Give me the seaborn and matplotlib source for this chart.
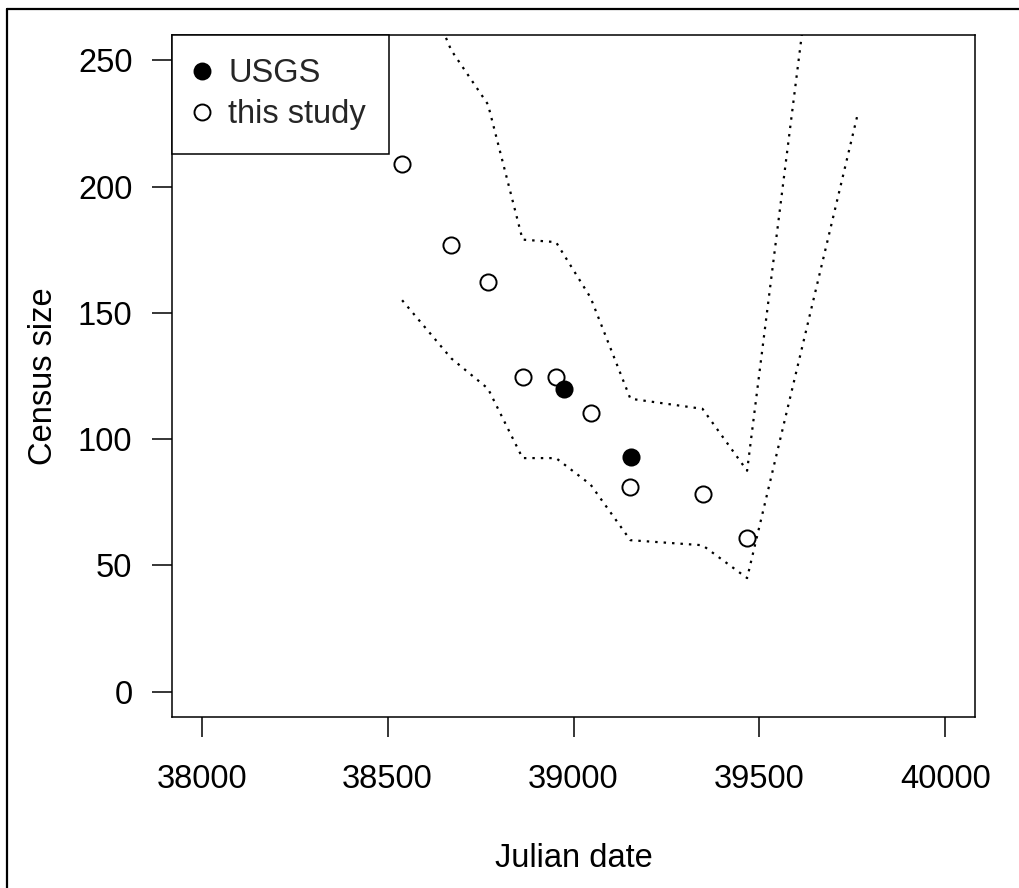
import matplotlib
matplotlib.use("Agg")
import matplotlib.pyplot as plt
from matplotlib.lines import Line2D
import seaborn as sns
import pandas as pd

# ---- data ----
study_date = [38539, 38671, 38770, 38863, 38953, 39046, 39153, 39347, 39467]
study_size = [208.9, 176.8, 162.2, 124.6, 124.6, 110.2, 81.2, 78.1, 60.8]

usgs_date = [38975, 39155]
usgs_size = [119.7, 92.8]

bound_date = [38539, 38671, 38770, 38863, 38953, 39046, 39153, 39347, 39467, 39765]
upper_size = [300, 254, 232.5, 179, 178, 156, 116, 112, 87.5, 437]
lower_size = [155, 132, 120, 92.5, 92.5, 82, 60, 58, 45, 229]

x_ticks = [38000, 38500, 39000, 39500, 40000]
y_ticks = [0, 50, 100, 150, 200, 250]

sns.set_theme(style="white")
plt.rcParams['font.family'] = ['Liberation Sans', 'DejaVu Sans']
FS = 23.5

fig = plt.figure(figsize=(10.19, 8.88), dpi=100)
ax = fig.add_axes([172/1019, 1-717/888, (975-172)/1019, (717-35)/888])

bounds = pd.DataFrame({"date": bound_date, "upper": upper_size, "lower": lower_size})
dotted = (0, (1.1, 2.7))
sns.lineplot(data=bounds, x="date", y="upper", ax=ax, color="black", lw=1.6,
             linestyle=dotted, sort=False, estimator=None)
sns.lineplot(data=bounds, x="date", y="lower", ax=ax, color="black", lw=1.6,
             linestyle=dotted, sort=False, estimator=None)

study = pd.DataFrame({"date": study_date, "size": study_size})
usgs = pd.DataFrame({"date": usgs_date, "size": usgs_size})
sns.scatterplot(data=study, x="date", y="size", ax=ax, marker="o", s=135,
                facecolor="white", edgecolor="black", linewidth=1.4, zorder=3)
sns.scatterplot(data=usgs, x="date", y="size", ax=ax, marker="o", s=135,
                color="black", edgecolor="black", linewidth=1.4, zorder=4)

ax.set_xlim(37920, 40080)
ax.set_ylim(-10, 260)
ax.set_xticks(x_ticks)
ax.set_yticks(y_ticks)
ax.set_xticklabels([str(v) for v in x_ticks])
ax.set_yticklabels([str(v) for v in y_ticks])
ax.tick_params(axis="both", direction="out", length=14.5, width=1.1, color="black",
               labelsize=FS, labelcolor="black", left=True, bottom=True)
ax.tick_params(axis="x", pad=19)
ax.tick_params(axis="y", pad=14)
for sp in ax.spines.values():
    sp.set_visible(True)
    sp.set_color("black")
    sp.set_linewidth(1.1)

ax.set_xlabel("Julian date", fontsize=FS, color="black")
ax.set_ylabel("Census size", fontsize=FS, color="black")
ax.xaxis.set_label_coords(0.5, -141/682)
ax.xaxis.label.set_va("center")
ax.yaxis.set_label_coords(-128/803, 0.5)
ax.yaxis.label.set_va("center")

handles = [
    Line2D([], [], marker="o", linestyle="none", markersize=11.5,
           markerfacecolor="black", markeredgecolor="black", markeredgewidth=1.4),
    Line2D([], [], marker="o", linestyle="none", markersize=11.5,
           markerfacecolor="white", markeredgecolor="black", markeredgewidth=1.4),
]
leg = ax.legend(handles, ["USGS", "this study"], loc="upper left",
                bbox_to_anchor=(0, 1), borderaxespad=0, fontsize=FS,
                frameon=True, fancybox=False, framealpha=1, edgecolor="black",
                borderpad=0.72, handlelength=0.4, handletextpad=0.6,
                labelspacing=0.3)
leg.get_frame().set_linewidth(1.1)

# outer border of the figure (right/bottom edges fall outside the image)
fig.add_artist(Line2D([7/1019, 7/1019], [0, 1-9/888], transform=fig.transFigure,
                      color="black", lw=1.6))
fig.add_artist(Line2D([7/1019, 1], [1-9/888, 1-9/888], transform=fig.transFigure,
                      color="black", lw=1.6))

fig.savefig("out.png", dpi=100, facecolor="white")
